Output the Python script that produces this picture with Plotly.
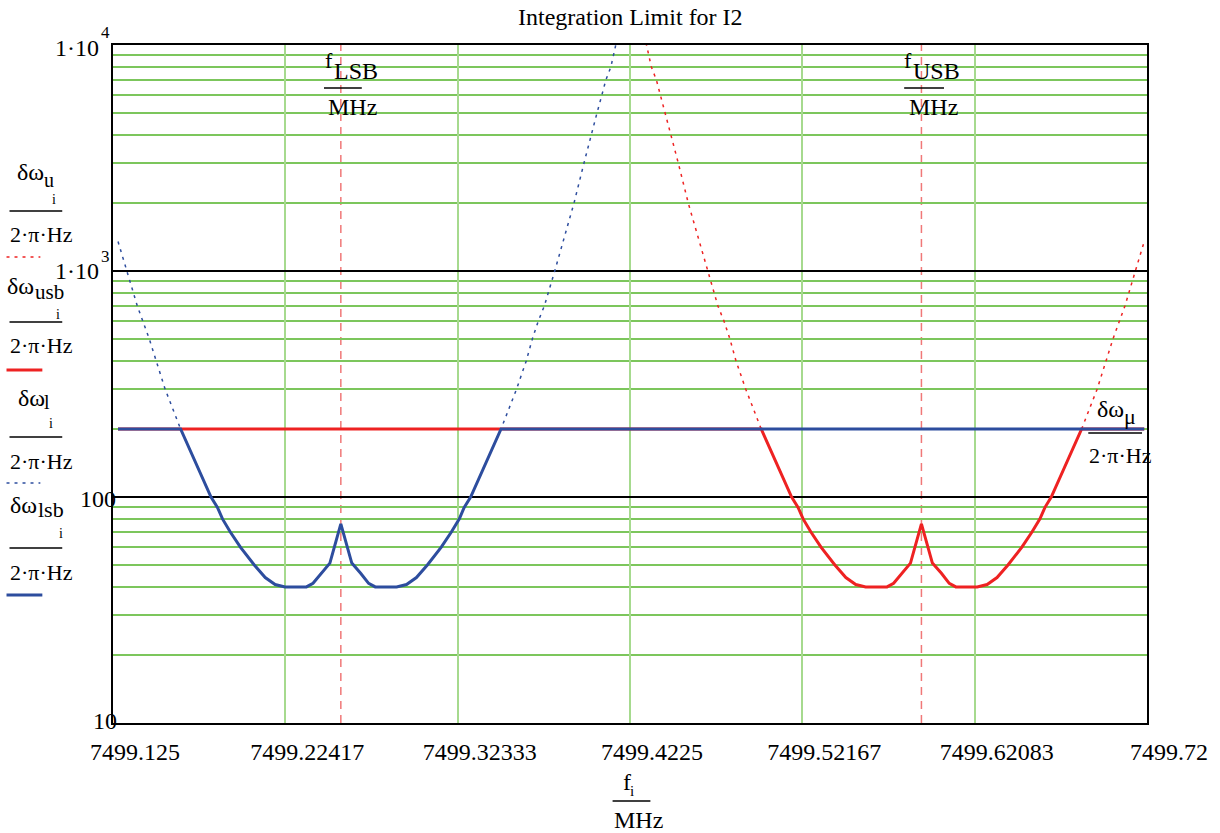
import plotly.graph_objects as go

TITLE = "Integration Limit for I2"

# marker positions (MHz) and the limit level δω_μ/(2π·Hz)
F_LSB = 7499.2561
F_USB = 7499.5902
DW_MU = 200.0

# δω_l / (2π·Hz) versus f / MHz
f_l = [7499.1279, 7499.1330, 7499.1390, 7499.1459, 7499.1550, 7499.1639,
       7499.1814, 7499.1851, 7499.1880, 7499.1925, 7499.1983, 7499.2063,
       7499.2126, 7499.2183, 7499.2240, 7499.2363, 7499.2401, 7499.2447,
       7499.2498, 7499.2561, 7499.2624, 7499.2675, 7499.2721, 7499.2759,
       7499.2882, 7499.2939, 7499.2996, 7499.3059, 7499.3139, 7499.3197,
       7499.3243, 7499.3271, 7499.3308, 7499.3483, 7499.3572, 7499.3628,
       7499.3663, 7499.3697, 7499.3732, 7499.3792, 7499.3903, 7499.3960,
       7499.4000, 7499.4035, 7499.4063, 7499.4086, 7499.4115, 7499.4143,
       7499.4176]
dw_l = [1350, 1000, 700, 500, 300, 200,
        100, 90, 80, 70, 60, 50,
        44, 41, 40, 40, 41.5, 46,
        51, 76, 51, 46, 41.5, 40,
        40, 41, 44, 50, 60, 70,
        80, 90, 100, 200, 300, 400,
        500, 600, 700, 1000, 2000, 3000,
        4000, 5000, 6000, 7000, 8000, 10000,
        13000]

# δω_u / (2π·Hz) versus f / MHz
f_u = [7499.4287, 7499.4320, 7499.4348, 7499.4377, 7499.4400, 7499.4428,
       7499.4463, 7499.4503, 7499.4560, 7499.4671, 7499.4731, 7499.4766,
       7499.4800, 7499.4835, 7499.4891, 7499.4980, 7499.5155, 7499.5192,
       7499.5221, 7499.5266, 7499.5324, 7499.5404, 7499.5467, 7499.5524,
       7499.5581, 7499.5704, 7499.5742, 7499.5788, 7499.5839, 7499.5902,
       7499.5965, 7499.6017, 7499.6062, 7499.6100, 7499.6223, 7499.6280,
       7499.6337, 7499.6400, 7499.6480, 7499.6538, 7499.6584, 7499.6613,
       7499.6649, 7499.6824, 7499.6913, 7499.7004, 7499.7073, 7499.7133,
       7499.7184]
dw_u = [13000, 10000, 8000, 7000, 6000, 5000,
        4000, 3000, 2000, 1000, 700, 600,
        500, 400, 300, 200, 100, 90,
        80, 70, 60, 50, 44, 41,
        40, 40, 41.5, 46, 51, 76,
        51, 46, 41.5, 40, 40, 41,
        44, 50, 60, 70, 80, 90,
        100, 200, 300, 500, 700, 1000,
        1350]

x_ticks = [7499.125, 7499.22417, 7499.32333, 7499.4225, 7499.52167, 7499.62083, 7499.72]
x_tick_text = ["7499.125", "7499.22417", "7499.32333", "7499.4225",
               "7499.52167", "7499.62083", "7499.72"]
y_ticks = [10, 100, 1000, 10000]

F_START = f_l[0]
F_END = f_u[-1]

# usb / lsb: the curves limited to δω_μ
usb_f = [F_START] + [f for f, v in zip(f_u, dw_u) if v <= DW_MU] + [F_END]
usb_v = [DW_MU] + [v for v in dw_u if v <= DW_MU] + [DW_MU]
lsb_f = [F_START] + [f for f, v in zip(f_l, dw_l) if v <= DW_MU] + [F_END]
lsb_v = [DW_MU] + [v for v in dw_l if v <= DW_MU] + [DW_MU]

RED = "#ee2222"
BLUE = "#2d4d9e"
SERIF = "Liberation Serif, Times New Roman, serif"

W, H = 1220, 833
ML, MR, MT, MB = 113, 68, 45, 110
PW, PH = W - ML - MR, H - MT - MB


def px(x):
    return (x - ML) / PW


def py(y):
    return (H - MB - y) / PH


fig = go.Figure()
fig.add_trace(go.Scatter(x=f_u, y=dw_u, mode="lines",
                         line=dict(color=RED, width=1.5, dash="3px,5px"),
                         showlegend=False))
fig.add_trace(go.Scatter(x=usb_f, y=usb_v, mode="lines",
                         line=dict(color=RED, width=3), showlegend=False))
fig.add_trace(go.Scatter(x=f_l, y=dw_l, mode="lines",
                         line=dict(color=BLUE, width=1.5, dash="3px,5px"),
                         showlegend=False))
fig.add_trace(go.Scatter(x=lsb_f, y=lsb_v, mode="lines",
                         line=dict(color=BLUE, width=3), showlegend=False))

shapes = []
# vertical markers at the sidebands and horizontal marker at δω_μ
for fm in (F_LSB, F_USB):
    shapes.append(dict(type="line", xref="x", yref="paper", x0=fm, x1=fm,
                       y0=0, y1=1, layer="below",
                       line=dict(color="#f07878", width=1.5, dash="8px,6px")))
shapes.append(dict(type="line", xref="paper", yref="y", x0=0, x1=1,
                   y0=2.30103, y1=2.30103, layer="below",
                   line=dict(color="#f07878", width=1, dash="8px,6px")))


def bar(x0, x1, y):
    shapes.append(dict(type="line", xref="paper", yref="paper",
                       x0=px(x0), x1=px(x1), y0=py(y), y1=py(y),
                       line=dict(color="black", width=1.5)))


annotations = []


def txt(x, y, s, size=24, anchor="center"):
    annotations.append(dict(xref="paper", yref="paper", x=px(x), y=py(y),
                            text=s, showarrow=False, xanchor=anchor,
                            yanchor="middle",
                            font=dict(family=SERIF, size=size, color="black")))


# title
txt(633, 17, TITLE, 24)

# y tick labels
txt(101, 48, "1·10", 24, "right")
txt(105, 33, "4", 17)
txt(101, 271, "1·10", 24, "right")
txt(105, 256, "3", 17)
txt(118, 499, "100", 24, "right")
txt(119, 721, "10", 24, "right")

# legend with line samples
legend = [
    (172, "u", 211, 234, 257, RED, "3px,5px", 1.5),
    (286, "usb", 322, 345, 370, RED, None, 3),
    (398, "l", 437, 461, 483, BLUE, "3px,5px", 1.5),
    (505, "lsb", 548, 572, 595, BLUE, None, 3),
]
for ytxt, sub, ybar, yden, ysample, col, dash, wid in legend:
    if sub == "u":
        txt(30, ytxt, "δω", 24)
        txt(49, ytxt + 8, "u", 20)
        txt(54, ytxt + 27, "i", 14)
    elif sub == "usb":
        txt(20, ytxt, "δω", 24)
        txt(49, ytxt + 6, "usb", 21)
        txt(58, ytxt + 29, "i", 14)
    elif sub == "l":
        txt(31, ytxt, "δω", 24)
        txt(47, ytxt + 4, "l", 20)
        txt(51, ytxt + 26, "i", 14)
    else:
        txt(23, ytxt, "δω", 24)
        txt(51, ytxt + 4, "lsb", 22)
        txt(61, ytxt + 28, "i", 14)
    bar(9, 62, ybar)
    txt(41, yden, "2·π·Hz", 22)
    ln = dict(color=col, width=wid)
    if dash:
        ln["dash"] = dash
    shapes.append(dict(type="line", xref="paper", yref="paper",
                       x0=px(6), x1=px(40 if dash else 42),
                       y0=py(ysample), y1=py(ysample), line=ln))

# marker labels
txt(330, 60, "f", 22)
txt(357, 71, "LSB", 24)
bar(325, 363, 88)
txt(354, 107, "MHz", 24)

txt(912, 60, "f", 22)
txt(940, 71, "USB", 24)
bar(908, 948, 88)
txt(937, 107, "MHz", 24)

txt(1115, 409, "δω", 24)
txt(1135, 416, "μ", 22)
bar(1093, 1147, 433)
txt(1125, 455, "2·π·Hz", 22)

# x axis title
txt(629, 782, "f", 24)
txt(635, 791, "i", 15)
bar(615, 653, 801)
txt(641, 820, "MHz", 24)

minor_vals = [k * 10 ** d for d in (1, 2, 3) for k in range(2, 10)]

fig.update_layout(
    width=W, height=H,
    margin=dict(l=ML, r=MR, t=MT, b=MB),
    paper_bgcolor="white", plot_bgcolor="white",
    showlegend=False,
    shapes=shapes,
    annotations=annotations,
    xaxis=dict(
        range=[7499.125, 7499.72],
        tickvals=x_ticks, ticktext=x_tick_text,
        ticks="", ticklabelshift=22, ticklabelstandoff=6,
        tickfont=dict(family=SERIF, size=24, color="black"),
        showgrid=True, gridcolor="#a6da8e", gridwidth=1.5,
        zeroline=False,
        showline=True, linecolor="black", linewidth=2, mirror=True,
    ),
    yaxis=dict(
        type="log", range=[1, 4],
        tickvals=y_ticks, showticklabels=False, ticks="",
        showgrid=True, gridcolor="black", gridwidth=1.5,
        minor=dict(tickvals=minor_vals, showgrid=True,
                   gridcolor="#7cc65c", gridwidth=1.5, ticks=""),
        zeroline=False,
        showline=True, linecolor="black", linewidth=2, mirror=True,
    ),
)

fig.write_html("out.html")
